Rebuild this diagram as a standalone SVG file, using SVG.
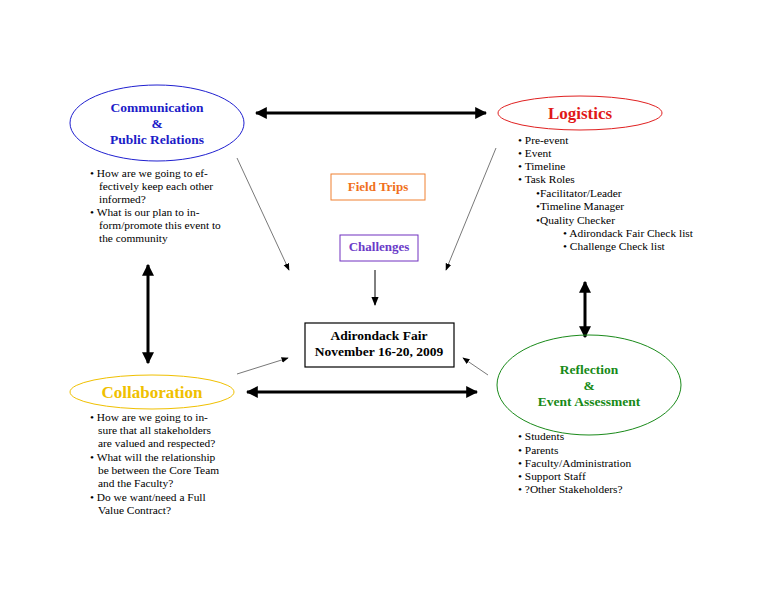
<svg xmlns="http://www.w3.org/2000/svg" width="768" height="594" viewBox="0 0 768 594">
<style>
.t{font-family:"Liberation Serif","Times New Roman",serif;font-size:11.4px;fill:#000}
.h{font-family:"Liberation Serif","Times New Roman",serif;font-weight:bold;text-anchor:middle}
.thick{stroke:#000;stroke-width:3;fill:none}
.thin{stroke:#555;stroke-width:0.8;fill:none}
</style>
<defs>
<marker id="ah" viewBox="0 0 10 10" refX="9" refY="5" markerWidth="4" markerHeight="4" orient="auto-start-reverse" markerUnits="strokeWidth"><path d="M0,0 L10,5 L0,10 z" fill="#000"/></marker>
<marker id="as" viewBox="0 0 10 10" refX="9" refY="5" markerWidth="9" markerHeight="9" orient="auto" markerUnits="strokeWidth"><path d="M0,1 L10,5 L0,9 z" fill="#000"/></marker>
</defs>
<rect width="768" height="594" fill="#fff"/>
<g id="connectors">
<line class="thick" x1="256" y1="113" x2="486" y2="113" marker-start="url(#ah)" marker-end="url(#ah)"/>
<line class="thick" x1="247" y1="392" x2="477" y2="392" marker-start="url(#ah)" marker-end="url(#ah)"/>
<line class="thick" x1="148" y1="265" x2="148" y2="363" marker-start="url(#ah)" marker-end="url(#ah)"/>
<line class="thick" x1="585" y1="282" x2="585" y2="337" marker-start="url(#ah)" marker-end="url(#ah)"/>
<line class="thin" x1="237" y1="158" x2="289" y2="270" marker-end="url(#as)"/>
<line class="thin" x1="496" y1="148" x2="446" y2="270" marker-end="url(#as)"/>
<line x1="375" y1="270" x2="375" y2="305" stroke="#000" stroke-width="1" marker-end="url(#as)"/>
<line class="thin" x1="237" y1="374" x2="288" y2="358" marker-end="url(#as)"/>
<line class="thin" x1="488" y1="375" x2="463" y2="358" marker-end="url(#as)"/>
</g>
<g id="communication">
<ellipse cx="157" cy="123" rx="87" ry="38" fill="none" stroke="#2020d0" stroke-width="1"/>
<text class="h" x="157" y="112" font-size="13.5" fill="#1c1cc8">Communication</text>
<text class="h" x="157" y="128" font-size="13.5" fill="#1c1cc8">&amp;</text>
<text class="h" x="157" y="144" font-size="13.5" fill="#1c1cc8">Public Relations</text>
<text class="t" x="90" y="177">• How are we going to ef-</text>
<text class="t" x="99" y="190">fectively keep each other</text>
<text class="t" x="99" y="203">informed?</text>
<text class="t" x="90" y="216">• What is our plan to in-</text>
<text class="t" x="99" y="229">form/promote this event to</text>
<text class="t" x="99" y="242">the community</text>
</g>
<g id="logistics">
<ellipse cx="580" cy="113" rx="82" ry="17" fill="none" stroke="#e02020" stroke-width="1"/>
<text class="h" x="580" y="119" font-size="17" fill="#e01818">Logistics</text>
<text class="t" x="518" y="144">• Pre-event</text>
<text class="t" x="518" y="157">• Event</text>
<text class="t" x="518" y="170">• Timeline</text>
<text class="t" x="518" y="183">• Task Roles</text>
<text class="t" x="536" y="197">•Facilitator/Leader</text>
<text class="t" x="536" y="210">•Timeline Manager</text>
<text class="t" x="536" y="224">•Quality Checker</text>
<text class="t" x="563" y="237">• Adirondack Fair Check list</text>
<text class="t" x="563" y="250">• Challenge Check list</text>
</g>
<g id="collaboration">
<ellipse cx="152" cy="392" rx="82" ry="17" fill="none" stroke="#f0c000" stroke-width="1"/>
<text class="h" x="152" y="398" font-size="17" fill="#f0c000">Collaboration</text>
<text class="t" x="90" y="421">• How are we going to in-</text>
<text class="t" x="98" y="434">sure that all stakeholders</text>
<text class="t" x="98" y="447">are valued and respected?</text>
<text class="t" x="90" y="461">• What will the relationship</text>
<text class="t" x="98" y="474">be between the Core Team</text>
<text class="t" x="98" y="487">and the Faculty?</text>
<text class="t" x="90" y="501">• Do we want/need a Full</text>
<text class="t" x="98" y="514">Value Contract?</text>
</g>
<g id="reflection">
<ellipse cx="589" cy="385" rx="92" ry="50" fill="none" stroke="#1a8a1a" stroke-width="1"/>
<text class="h" x="589" y="374" font-size="13.5" fill="#178a17">Reflection</text>
<text class="h" x="589" y="390" font-size="13.5" fill="#178a17">&amp;</text>
<text class="h" x="589" y="406" font-size="13.5" fill="#178a17">Event Assessment</text>
<text class="t" x="518" y="440">• Students</text>
<text class="t" x="518" y="454">• Parents</text>
<text class="t" x="518" y="467">• Faculty/Administration</text>
<text class="t" x="518" y="480">• Support Staff</text>
<text class="t" x="518" y="493">• ?Other Stakeholders?</text>
</g>
<g id="fieldtrips">
<rect x="331" y="174" width="94" height="26" fill="none" stroke="#f08030" stroke-width="1"/>
<text class="h" x="378" y="191" font-size="13" fill="#f07020">Field Trips</text>
</g>
<g id="challenges">
<rect x="340" y="235" width="78" height="26" fill="none" stroke="#7030c0" stroke-width="1"/>
<text class="h" x="379" y="251" font-size="13" fill="#6a3ac8">Challenges</text>
</g>
<g id="fair">
<rect x="305" y="323" width="149" height="44" fill="none" stroke="#000" stroke-width="1.2"/>
<text class="h" x="379" y="340" font-size="13.5" fill="#000">Adirondack Fair</text>
<text class="h" x="379" y="356" font-size="13.5" fill="#000">November 16-20, 2009</text>
</g>
</svg>
